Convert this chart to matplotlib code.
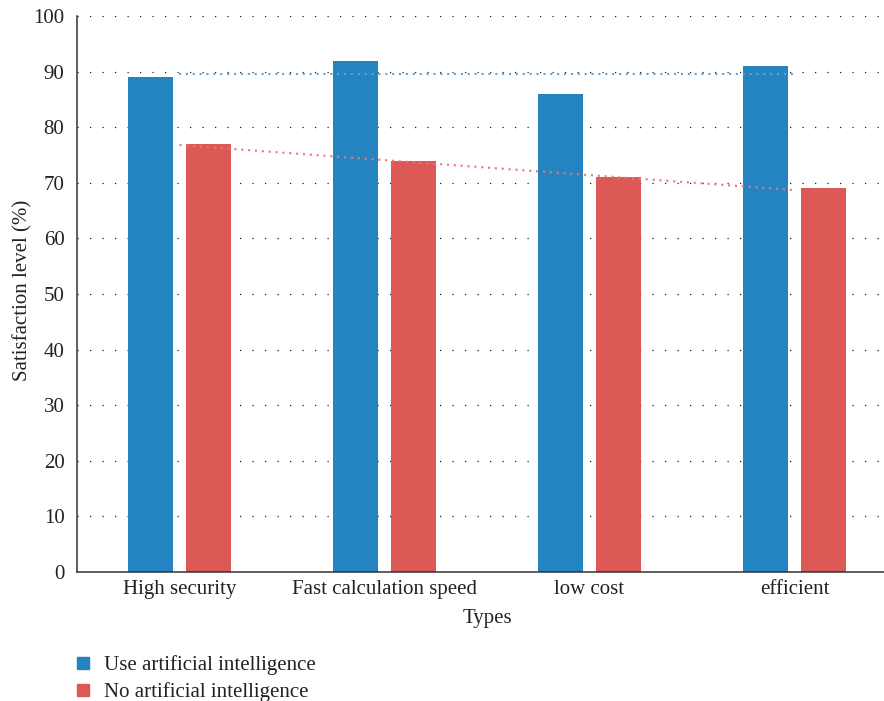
import numpy as np
import matplotlib.pyplot as plt
from matplotlib.lines import Line2D

categories = ['High security', 'Fast calculation speed', 'low cost', 'efficient']
use_ai = [89, 92, 86, 91]
no_ai = [77, 74, 71, 69]
series_names = ['Use artificial intelligence', 'No artificial intelligence']

blue = '#2484c1'
red = '#dd5955'

plt.rcParams['font.family'] = ['Liberation Serif', 'DejaVu Serif']
fs = 15

fig = plt.figure(figsize=(8.84, 7.01), dpi=100)
ax = fig.add_axes([0.0871, 0.184, 0.9276, 0.793])

x = np.arange(len(categories))
w = 0.224
off = 0.1415
ax.bar(x - off, use_ai, w, color=blue, zorder=2)
ax.bar(x + off, no_ai, w, color=red, zorder=2)

# linear trend lines
for vals, col in [(use_ai, '#5aa5d6'), (no_ai, '#e57a76')]:
    k, b = np.polyfit(x, vals, 1)
    ax.plot(x, k * x + b, color=col, lw=1.5, linestyle=(0, (1, 2.3)), zorder=3)

ax.set_xlim(-0.5, 3.5)
ax.set_ylim(0, 100)
ax.set_yticks(range(0, 101, 10))
ax.set_xticks(x)
ax.set_xticklabels(categories)
ax.tick_params(axis='both', length=0, labelsize=fs, colors='#222222')
ax.tick_params(axis='y', pad=9)
ax.tick_params(axis='x', pad=6)
ax.yaxis.grid(True, color='#222222', lw=0.9, linestyle=(0, (1, 9)), zorder=0)
ax.set_axisbelow(True)

for s in ['top', 'right']:
    ax.spines[s].set_visible(False)
for s in ['left', 'bottom']:
    ax.spines[s].set_color('#333333')
    ax.spines[s].set_linewidth(1.1)

ax.set_xlabel('Types', fontsize=fs, color='#222222', labelpad=7)
ax.set_ylabel('Satisfaction level (%)', fontsize=fs, color='#222222')
ax.yaxis.set_label_coords(-0.054, 0.507)

handles = [Line2D([], [], marker='s', ls='', color=c, markersize=9) for c in (blue, red)]
fig.legend(handles, series_names, loc='upper left', bbox_to_anchor=(0.073, 0.077),
           frameon=False, fontsize=fs, handletextpad=0.5, labelspacing=0.35,
           borderaxespad=0, handlelength=1.0, labelcolor='#222222')

fig.savefig('out.png', dpi=100)
